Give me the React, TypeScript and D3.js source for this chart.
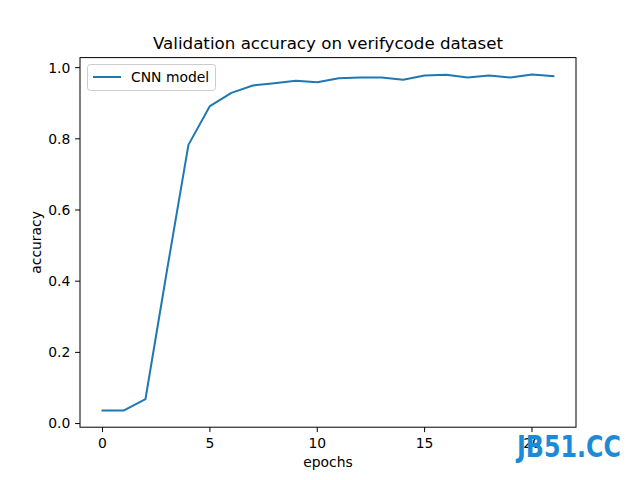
import React from "react";
import * as d3 from "d3";

const epochs = d3.range(0, 22);
const accuracy = [0.037, 0.037, 0.069, 0.43, 0.783, 0.892, 0.929, 0.95, 0.956, 0.963, 0.959, 0.97, 0.972, 0.972, 0.966, 0.978, 0.98, 0.972, 0.978, 0.972, 0.981, 0.976];
const xTicks = [0, 5, 10, 15, 20];
const yTicks = [0.0, 0.2, 0.4, 0.6, 0.8, 1.0];
const seriesName = "CNN model";
const title = "Validation accuracy on verifycode dataset";

const W = 640, H = 480;
const L = 80, R = 576, T = 57.6, B = 427.2;
const FONT = "DejaVu Sans, sans-serif";
const COLOR = "#1f77b4";

export default function App() {
  const xMin = d3.min(epochs)!, xMax = d3.max(epochs)!;
  const yMin = d3.min(accuracy)!, yMax = d3.max(accuracy)!;
  const xm = (xMax - xMin) * 0.05, ym = (yMax - yMin) * 0.05;
  const x = d3.scaleLinear().domain([xMin - xm, xMax + xm]).range([L, R]);
  const y = d3.scaleLinear().domain([yMin - ym, yMax + ym]).range([B, T]);
  const line = d3.line<number>().x((_, i) => x(epochs[i])).y((d) => y(d));
  return (
    <svg width={W} height={H} style={{ display: "block", position: "absolute", left: 0, top: 0 }} fontFamily={FONT}>
      <rect x={0} y={0} width={W} height={H} fill="#fff" />
      <path d={line(accuracy)!} fill="none" stroke={COLOR} strokeWidth={2} strokeLinejoin="round" strokeLinecap="square" />
      <rect x={L} y={T} width={R - L} height={B - T} fill="none" stroke="#000" strokeWidth={1} />
      {xTicks.map((t) => (
        <g key={"x" + t}>
          <line x1={x(t)} x2={x(t)} y1={B} y2={B + 4.9} stroke="#000" strokeWidth={1} />
          <text x={x(t)} y={B + 9.7} dy="0.8em" fontSize={13.9} textAnchor="middle" fill="#000">{t}</text>
        </g>
      ))}
      {yTicks.map((t) => (
        <g key={"y" + t}>
          <line x1={L - 4.9} x2={L} y1={y(t)} y2={y(t)} stroke="#000" strokeWidth={1} />
          <text x={L - 9.7} y={y(t)} dy="0.35em" fontSize={13.9} textAnchor="end" fill="#000">{t.toFixed(1)}</text>
        </g>
      ))}
      <text x={(L + R) / 2} y={467} fontSize={13.9} textAnchor="middle" fill="#000">epochs</text>
      <text transform={`translate(41,${(T + B) / 2}) rotate(-90)`} fontSize={13.9} textAnchor="middle" fill="#000">accuracy</text>
      <text x={(L + R) / 2} y={49} fontSize={16.7} textAnchor="middle" fill="#000">{title}</text>
      <g>
        <rect x={87.5} y={64.5} width={128} height={26} rx={3} fill="#fff" fillOpacity={0.8} stroke="#ccc" strokeWidth={1} />
        <line x1={93} x2={121} y1={77} y2={77} stroke={COLOR} strokeWidth={2} />
        <text x={131} y={77} dy="0.35em" fontSize={13.9} fill="#000">{seriesName}</text>
      </g>
      <text x={517} y={457} fontSize={31} fontWeight="bold" fontFamily="Liberation Sans Narrow, DejaVu Sans Condensed, sans-serif" fill="#1e8ad6" textLength={104} lengthAdjust="spacingAndGlyphs">JB51.CC</text>
    </svg>
  );
}
